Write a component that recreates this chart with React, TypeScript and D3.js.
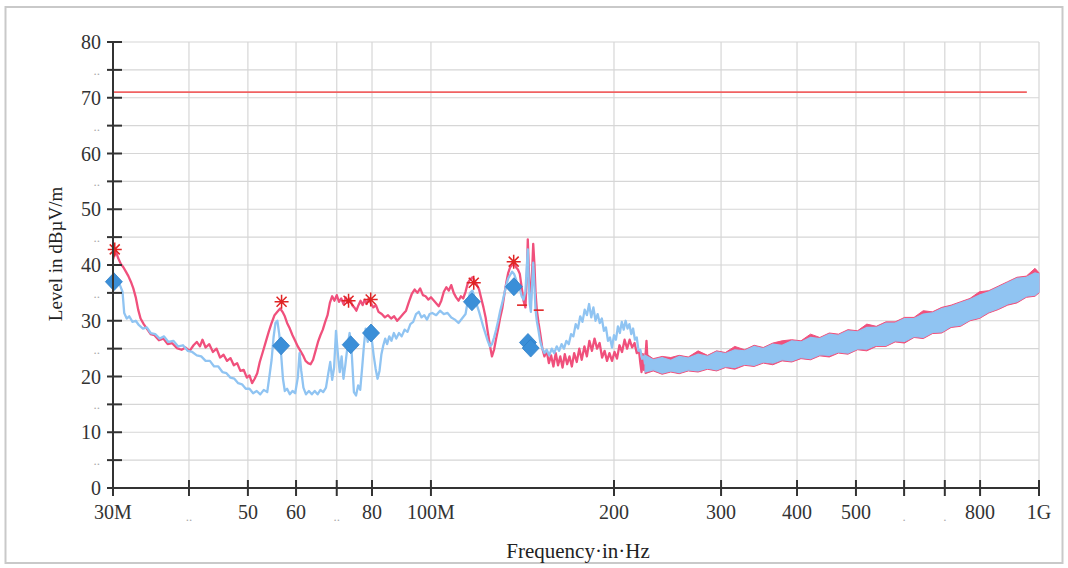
import React from "react";
import * as d3 from "d3";

// ---------- data ----------
const xTicks = [30, 40, 50, 60, 70, 80, 100, 200, 300, 400, 500, 600, 700, 800, 1000];
const xTickLabels = ["30M", "..", "50", "60", "..", "80", "100M", "200", "300", "400", "500", ".", ".", "800", "1G"];
const yTicks = [0, 5, 10, 15, 20, 25, 30, 35, 40, 45, 50, 55, 60, 65, 70, 75, 80];
const yTickLabels = ["0", "..", "10", "..", "20", "..", "30", "..", "40", "..", "50", "..", "60", "..", "70", "..", "80"];

const limitFreq = [30, 955];
const limitLevel = [71, 71];

// Peak trace (MHz, dBµV/m)
const peakTrace: [number, number][] = [
  [30.0, 41.0], [30.3, 42.6], [30.6, 41.2], [30.9, 40.2], [31.2, 39.6], [31.5, 38.8], [31.8, 38.0], [32.1, 37.0],
  [32.4, 35.8], [32.7, 34.2], [33.0, 32.0], [33.3, 30.4], [33.7, 29.4], [34.1, 28.6], [34.6, 27.6], [35.1, 27.4],
  [35.7, 26.5], [36.3, 26.8], [36.9, 25.8], [37.5, 26.0], [38.2, 25.1], [38.9, 24.8], [39.5, 25.2], [40.1, 24.6],
  [40.7, 25.6], [41.2, 26.2], [41.7, 25.4], [42.1, 26.6], [42.6, 25.2], [43.2, 25.8], [43.8, 24.4], [44.4, 25.0],
  [45.0, 23.4], [45.6, 23.9], [46.2, 22.8], [46.8, 23.3], [47.4, 22.0], [48.0, 22.4], [48.6, 21.0], [49.2, 21.2],
  [49.8, 19.8], [50.3, 20.2], [50.8, 18.8], [51.3, 19.6], [51.8, 20.6], [52.3, 22.6], [52.9, 24.4], [53.5, 26.2],
  [54.1, 28.0], [54.7, 29.6], [55.3, 31.0], [55.9, 31.6], [56.5, 32.2], [57.0, 31.6], [57.5, 30.8], [58.0, 29.6],
  [58.6, 28.6], [59.2, 27.4], [59.8, 26.4], [60.4, 25.4], [61.0, 24.6], [61.6, 23.8], [62.2, 22.8], [62.8, 22.4],
  [63.4, 22.2], [64.0, 23.0], [64.6, 24.6], [65.2, 26.2], [65.8, 27.4], [66.4, 28.4], [67.0, 29.8], [67.6, 31.0],
  [68.2, 33.2], [68.8, 34.4], [69.4, 33.6], [70.0, 34.6], [70.6, 33.4], [71.2, 34.0], [71.8, 33.0], [72.4, 34.2],
  [73.0, 33.2], [73.6, 34.0], [74.2, 32.8], [74.8, 32.4], [75.4, 31.8], [76.0, 32.8], [76.6, 33.6], [77.2, 32.8],
  [77.8, 33.8], [78.4, 33.0], [79.0, 34.0], [79.6, 33.2], [80.4, 32.4], [81.2, 32.8], [82.0, 31.6], [83.0, 31.2],
  [84.0, 30.6], [85.0, 31.0], [86.0, 30.4], [87.0, 30.8], [88.0, 30.0], [89.0, 30.6], [90.0, 31.2], [91.0, 31.8],
  [92.0, 33.4], [93.0, 34.8], [94.0, 35.6], [95.0, 35.0], [96.0, 35.8], [97.0, 34.6], [98.0, 34.4], [99.0, 33.8],
  [100.0, 34.2], [101.5, 33.4], [103.0, 32.6], [104.0, 33.6], [105.0, 35.2], [106.0, 36.0], [107.0, 35.4], [108.0, 36.4],
  [109.0, 35.0], [110.0, 34.2], [111.0, 33.6], [112.0, 34.4], [113.0, 34.0], [114.0, 35.2], [115.0, 36.8], [116.0, 37.4],
  [117.0, 37.8], [118.0, 37.2], [119.0, 36.4], [120.0, 35.6], [121.0, 34.0], [122.0, 32.4], [123.0, 30.6], [124.0, 28.0],
  [125.0, 25.6], [126.0, 23.6], [127.0, 24.8], [128.0, 26.8], [129.0, 28.6], [130.0, 30.6], [131.0, 32.2], [132.0, 34.6],
  [133.0, 36.8], [134.0, 38.6], [135.0, 39.6], [136.0, 40.0], [137.0, 40.4], [138.0, 39.6], [139.0, 39.2], [140.0, 38.4],
  [141.0, 36.0], [142.0, 33.6], [143.0, 32.4], [143.8, 38.0], [144.3, 44.6], [144.8, 40.0], [145.4, 35.0], [146.0, 33.4],
  [146.6, 38.0], [147.3, 43.8], [148.0, 40.0], [148.6, 35.0], [149.3, 32.0], [150.3, 29.6], [151.3, 27.6], [152.5, 25.0],
  [153.7, 23.6], [155.0, 24.6], [156.3, 22.4], [157.6, 23.8], [159.0, 21.8], [160.4, 24.2], [161.8, 22.0], [163.2, 23.6],
  [164.6, 21.6], [166.0, 24.0], [167.5, 22.2], [169.0, 23.6], [170.5, 21.8], [172.0, 24.2], [173.7, 22.6], [175.4, 25.0],
  [177.0, 23.0], [178.8, 25.4], [180.5, 23.6], [182.2, 26.4], [184.0, 24.6], [185.8, 26.8], [187.6, 25.0], [189.4, 26.0],
  [191.2, 23.4], [193.0, 24.6], [194.8, 22.8], [196.6, 24.2], [198.5, 22.8], [200.4, 24.4], [202.3, 23.2], [204.2, 25.6],
  [206.2, 24.4], [208.2, 26.6], [210.2, 25.0], [212.2, 26.6], [214.2, 25.2], [216.2, 26.0], [218.0, 24.2], [219.9, 24.6],
  [221.0, 22.4], [222.0, 20.8], [223.0, 24.0], [224.0, 21.2], [225.0, 22.6], [226.2, 26.4], [227.4, 21.4],
];

// Average trace (MHz, dBµV/m)
const avgTrace: [number, number][] = [
  [30.0, 37.4], [30.4, 37.0], [30.8, 36.4], [31.1, 35.2], [31.3, 31.4], [31.6, 30.4], [31.9, 30.8], [32.3, 29.8],
  [32.7, 30.0], [33.1, 29.2], [33.6, 28.6], [34.1, 28.8], [34.6, 27.8], [35.2, 27.6], [35.8, 26.8], [36.4, 27.2],
  [37.0, 26.2], [37.7, 26.4], [38.4, 25.4], [39.1, 25.6], [39.8, 24.6], [40.5, 24.4], [41.2, 23.8], [41.9, 23.6],
  [42.6, 22.8], [43.3, 22.8], [44.0, 21.8], [44.7, 21.8], [45.4, 20.8], [46.1, 20.6], [46.8, 19.8], [47.5, 19.6],
  [48.2, 18.8], [48.9, 18.6], [49.6, 17.8], [50.3, 17.8], [51.0, 17.0], [51.7, 17.4], [52.4, 16.8], [53.1, 17.6],
  [53.8, 17.2], [54.3, 20.4], [54.7, 23.0], [55.1, 27.0], [55.5, 29.6], [55.9, 30.0], [56.3, 27.6], [56.7, 24.0],
  [57.1, 19.6], [57.5, 17.4], [58.0, 17.8], [58.6, 16.8], [59.2, 17.4], [59.8, 17.0], [60.4, 19.8], [60.8, 24.2],
  [61.2, 21.0], [61.7, 18.0], [62.3, 16.8], [63.0, 17.4], [63.7, 16.8], [64.4, 17.4], [65.1, 16.8], [65.8, 17.6],
  [66.5, 17.2], [67.2, 18.0], [67.8, 20.6], [68.3, 22.6], [68.8, 19.4], [69.3, 21.6], [69.8, 28.2], [70.3, 24.0],
  [70.8, 20.8], [71.3, 23.6], [71.8, 19.6], [72.3, 22.0], [72.9, 25.4], [73.5, 27.8], [74.1, 24.0], [74.7, 17.2],
  [75.3, 16.6], [75.9, 18.4], [76.5, 17.6], [77.1, 21.8], [77.6, 25.6], [78.1, 28.6], [78.7, 26.2], [79.3, 28.0],
  [79.9, 26.8], [80.5, 23.8], [81.1, 21.4], [81.7, 19.6], [82.3, 21.0], [82.9, 24.0], [83.5, 25.6], [84.1, 26.8],
  [84.7, 25.8], [85.4, 27.2], [86.1, 26.4], [86.9, 27.8], [87.7, 26.8], [88.6, 27.8], [89.5, 27.2], [90.5, 28.4],
  [91.5, 28.0], [92.5, 29.4], [93.5, 29.8], [94.5, 31.2], [95.5, 31.6], [96.5, 30.6], [97.5, 31.0], [98.5, 30.2],
  [99.5, 31.2], [100.5, 31.4], [102.0, 31.0], [103.5, 31.8], [105.0, 31.2], [106.5, 31.4], [108.0, 30.6], [109.5, 30.2],
  [111.0, 29.6], [112.5, 30.4], [114.0, 31.2], [115.0, 33.6], [116.0, 35.0], [117.0, 35.4], [118.0, 34.2], [119.0, 32.8],
  [120.0, 31.6], [121.0, 30.2], [122.0, 28.8], [123.0, 27.6], [124.0, 26.4], [125.0, 25.4], [126.0, 25.8], [127.0, 27.0],
  [128.0, 28.4], [129.0, 30.0], [130.0, 31.8], [131.0, 33.2], [132.0, 34.8], [133.0, 36.4], [134.0, 37.6], [135.0, 38.2],
  [136.0, 38.8], [137.0, 38.4], [138.0, 37.4], [139.0, 36.4], [140.0, 35.8], [141.0, 34.4], [142.0, 33.8], [143.0, 35.2],
  [143.8, 40.0], [144.3, 42.8], [144.8, 37.0], [145.4, 33.0], [146.0, 31.6], [146.6, 36.0], [147.3, 40.4], [148.0, 36.0],
  [148.6, 32.0], [149.3, 30.0], [150.3, 28.2], [151.3, 26.2], [152.5, 25.0], [153.7, 24.2], [155.0, 24.8], [156.5, 23.8],
  [158.0, 25.0], [159.5, 24.2], [161.0, 25.4], [162.5, 24.6], [164.0, 25.8], [165.5, 25.0], [167.0, 26.4], [168.5, 25.8],
  [170.0, 27.6], [171.5, 27.2], [173.0, 29.4], [174.5, 28.6], [176.0, 30.8], [177.5, 29.8], [179.0, 32.0], [180.5, 31.0],
  [182.0, 33.0], [183.5, 30.6], [185.0, 32.4], [186.5, 30.0], [188.0, 31.2], [189.5, 29.6], [191.0, 30.4], [192.5, 28.2],
  [194.0, 28.8], [195.5, 26.4], [197.0, 27.0], [198.5, 25.2], [200.0, 27.4], [201.5, 26.6], [203.0, 29.0], [204.5, 27.8],
  [206.0, 29.8], [207.5, 28.4], [209.0, 30.0], [210.5, 28.6], [212.0, 29.4], [213.5, 27.6], [215.0, 28.6], [216.5, 26.6],
  [218.0, 27.0], [219.5, 24.6], [221.0, 24.8], [222.5, 23.2], [224.0, 23.6], [225.0, 22.2],
];

// Noise envelope above 225 MHz
const bandFreq = [225, 232, 240, 248, 256, 265, 275, 285, 295, 305, 316, 328, 340, 352, 365, 378, 392, 406, 421, 436, 452, 468, 485, 503, 521, 540, 560, 580, 601, 623, 645, 668, 692, 717, 743, 770, 798, 827, 857, 888, 920, 953, 985, 1000];
const avgLo = [20.8, 21.2, 20.6, 21.0, 20.7, 21.2, 21.0, 21.5, 21.2, 21.8, 21.6, 22.2, 22.0, 22.6, 22.4, 23.0, 22.8, 23.4, 23.2, 23.9, 23.8, 24.4, 24.2, 25.0, 24.9, 25.6, 25.6, 26.4, 26.3, 27.2, 27.0, 27.9, 28.0, 29.0, 29.2, 30.2, 30.6, 31.6, 32.2, 33.0, 33.4, 34.4, 34.6, 35.2];
const avgHi = [23.8, 23.0, 23.4, 22.9, 23.6, 23.3, 24.0, 23.6, 24.4, 24.1, 24.8, 24.6, 25.4, 25.0, 25.8, 25.6, 26.4, 26.2, 27.0, 26.8, 27.6, 27.4, 28.2, 28.0, 28.8, 28.8, 29.6, 29.6, 30.4, 30.4, 31.2, 31.4, 32.2, 32.6, 33.2, 33.8, 34.6, 35.2, 36.0, 36.8, 37.6, 37.8, 38.6, 38.4];
const peakLo = [20.5, 21.0, 20.4, 20.8, 20.5, 21.0, 20.8, 21.3, 21.0, 21.6, 21.3, 22.0, 21.8, 22.4, 22.1, 22.8, 22.6, 23.2, 23.0, 23.7, 23.5, 24.2, 24.0, 24.8, 24.6, 25.4, 25.4, 26.2, 26.0, 27.0, 26.8, 27.7, 27.8, 28.8, 29.0, 30.0, 30.4, 31.4, 32.0, 32.8, 33.2, 34.2, 34.4, 35.0];
const peakHi = [24.2, 23.2, 23.6, 23.4, 23.8, 23.5, 24.6, 23.8, 24.6, 24.3, 25.4, 24.8, 25.6, 25.2, 26.0, 26.4, 26.6, 26.4, 27.6, 27.0, 27.8, 27.6, 28.4, 28.2, 29.4, 29.0, 29.8, 29.8, 30.6, 30.6, 31.8, 31.6, 32.4, 32.8, 33.4, 34.0, 35.2, 35.4, 36.2, 37.0, 37.8, 38.0, 39.4, 38.6];

// Final measurement markers
const peakMarkers: [number, number][] = [[30.2, 42.8], [56.8, 33.4], [73.2, 33.6], [79.6, 33.8], [117.6, 36.8], [136.8, 40.6]];
const peakDashes: [number, number][] = [[141.2, 32.8], [150.4, 31.9]];
const avgMarkers: [number, number][] = [[30.1, 37.0], [56.7, 25.5], [73.8, 25.7], [79.7, 27.8], [116.8, 33.4], [136.9, 36.1], [144.4, 26.1], [145.9, 25.1]];

// ---------- chart ----------
const W = 1068;
const H = 568;
const PINK = "#f0507c";
const BLUE = "#90c4f2";
const FONT = "'Liberation Serif', 'Times New Roman', serif";

export default function App() {
  const x = d3.scaleLog().domain([30, 1000]).range([113, 1039]);
  const y = d3.scaleLinear().domain([0, 80]).range([488, 42]);

  const line = d3
    .line<[number, number]>()
    .x((d) => x(d[0]))
    .y((d) => y(d[1]));

  const idx = bandFreq.map((_, i) => i);
  const avgArea = d3
    .area<number>()
    .x((i) => x(bandFreq[i]))
    .y0((i) => y(avgLo[i]))
    .y1((i) => y(avgHi[i]));
  const peakArea = d3
    .area<number>()
    .x((i) => x(bandFreq[i]))
    .y0((i) => y(peakLo[i]))
    .y1((i) => y(peakHi[i]));

  const limitPts: [number, number][] = limitFreq.map((f, i) => [f, limitLevel[i]]);

  const starPath = "M-7,0L7,0M0,-7L0,7M-5,-5L5,5M-5,5L5,-5";
  const diamondPath = "M0,-9L8.5,0L0,9L-8.5,0Z";

  const x0 = x(30);
  const x1 = x(1000);
  const yTop = y(80);
  const yBot = y(0);

  return (
    <svg width={W} height={H} style={{ position: "absolute", left: 0, top: 0, background: "#fff" }}>
      <rect x={0} y={0} width={W} height={H} fill="#fff" />
      <rect x={5.5} y={7} width={1057} height={556} fill="none" stroke="#c9c9c9" strokeWidth={2} />

      {/* grid */}
      <g stroke="#d6d6d6" strokeWidth={1.2}>
        {yTicks.slice(1).map((t) => (
          <line key={"gy" + t} x1={x0} x2={x1} y1={y(t)} y2={y(t)} />
        ))}
        {xTicks.slice(1).map((t) => (
          <line key={"gx" + t} x1={x(t)} x2={x(t)} y1={yTop} y2={yBot} />
        ))}
      </g>

      {/* limit line */}
      <path d={line(limitPts) || ""} fill="none" stroke="#f06262" strokeWidth={1.8} />

      {/* peak trace */}
      <path d={peakArea(idx) || ""} fill={PINK} stroke={PINK} strokeWidth={1} />
      <path d={line(peakTrace) || ""} fill="none" stroke={PINK} strokeWidth={2.3} strokeLinejoin="round" />

      {/* average trace */}
      <path d={avgArea(idx) || ""} fill={BLUE} stroke={BLUE} strokeWidth={1.2} />
      <path d={line(avgTrace) || ""} fill="none" stroke={BLUE} strokeWidth={2.3} strokeLinejoin="round" />

      {/* markers */}
      {peakDashes.map((d, i) => (
        <line key={"pd" + i} x1={x(d[0]) - 5} x2={x(d[0]) + 5} y1={y(d[1])} y2={y(d[1])} stroke="#e02424" strokeWidth={1.6} />
      ))}
      {avgMarkers.map((d, i) => (
        <path key={"am" + i} d={diamondPath} transform={`translate(${x(d[0])},${y(d[1])})`} fill="#3b8fd8" stroke="#2f7fc8" strokeWidth={0.8} />
      ))}
      {peakMarkers.map((d, i) => (
        <path key={"pm" + i} d={starPath} transform={`translate(${x(d[0])},${y(d[1])})`} fill="none" stroke="#e02424" strokeWidth={1.5} />
      ))}

      {/* axes */}
      <g stroke="#333" strokeWidth={2}>
        <line x1={x0} x2={x0} y1={yTop - 1} y2={yBot + 2} />
        <line x1={x0} x2={x1} y1={yBot} y2={yBot} />
        {yTicks.map((t) => (
          <line key={"ty" + t} x1={x0 - 6} x2={x0 + 9} y1={y(t)} y2={y(t)} />
        ))}
        {xTicks.map((t) => (
          <line key={"tx" + t} x1={x(t)} x2={x(t)} y1={yBot - 8} y2={yBot + 8} />
        ))}
      </g>

      {/* tick labels */}
      <g fontFamily={FONT}>
        {yTicks.map((t, i) =>
          yTickLabels[i] === ".." ? (
            <text key={"ly" + t} x={100} y={y(t) + 5} textAnchor="end" fontSize={13} fill="#aaa">
              ..
            </text>
          ) : (
            <text key={"ly" + t} x={101} y={y(t)} dy="0.35em" textAnchor="end" fontSize={20} fill="#333">
              {yTickLabels[i]}
            </text>
          )
        )}
        {xTicks.map((t, i) => {
          const lab = xTickLabels[i];
          const minor = lab === ".." || lab === ".";
          return minor ? (
            <text key={"lx" + t} x={x(t)} y={521} textAnchor="middle" fontSize={13} fill="#aaa">
              {lab}
            </text>
          ) : (
            <text key={"lx" + t} x={x(t)} y={519} textAnchor="middle" fontSize={20} fill="#333">
              {lab}
            </text>
          );
        })}
      </g>

      {/* axis titles */}
      <text x={578} y={558} textAnchor="middle" fontFamily={FONT} fontSize={21} fill="#222">
        Frequency·in·Hz
      </text>
      <text
        transform="translate(62,254) rotate(-90)"
        textAnchor="middle"
        fontFamily={FONT}
        fontSize={19}
        fill="#222"
      >
        Level in dBµV/m
      </text>
    </svg>
  );
}
